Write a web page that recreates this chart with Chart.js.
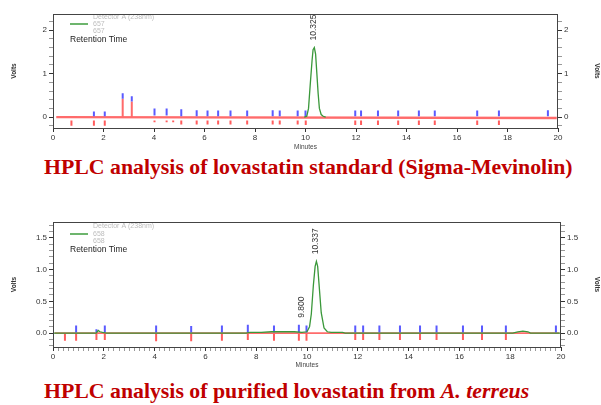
<!DOCTYPE html>
<html>
<head>
<meta charset="utf-8">
<script src="https://cdn.jsdelivr.net/npm/chart.js@4.4.1/dist/chart.umd.min.js"></script>
<style>
  body { margin:0; background:#fff; width:601px; height:405px; position:relative; overflow:hidden; }
  canvas { position:absolute; left:0; }
  #c1 { top:0; }
  #c2 { top:208px; }
  .title { position:absolute; left:44px; font-family:"Liberation Serif","Times New Roman",serif; font-weight:bold; font-size:21.8px; color:#c00000; white-space:nowrap; }
  #t1 { top:155px; }
  #t2 { top:379px; }
</style>
</head>
<body>
<canvas id="c1" width="601" height="152"></canvas>
<div class="title" id="t1">HPLC analysis of lovastatin standard (Sigma-Mevinolin)</div>
<canvas id="c2" width="601" height="162"></canvas>
<div class="title" id="t2">HPLC analysis of purified lovastatin from <i>A. terreus</i></div>
<script>
// minutes on the x axis
const xLabels = [0, 2, 4, 6, 8, 10, 12, 14, 16, 18, 20];

// ---- lovastatin standard (top) ----
const stdTime  = [9.95, 10.05, 10.12, 10.19, 10.26, 10.3, 10.35, 10.4, 10.45, 10.5, 10.55, 10.62, 10.7, 10.8];
const stdVolts = [0, 0.02, 0.2, 0.77, 1.3, 1.55, 1.6, 1.45, 1.0, 0.55, 0.2, 0.06, 0.02, 0];
const stdBaseT = [0.13, 19.95];
const stdBaseV = [0, -0.02];
const stdBlueT  = [1.62, 2.05, 2.76, 3.12, 4.02, 4.5, 5.08, 5.69, 6.12, 6.54, 7.03, 7.69, 8.7, 8.98, 9.69, 10.0, 11.97, 12.2, 12.87, 13.67, 14.49, 15.12, 16.8, 17.66, 19.6];
const stdBlueLo = [0.02, 0.02, 0.42, 0.36, 0.04, 0.04, 0.02, 0.02, 0.02, 0.02, 0.02, 0.02, 0.02, 0.02, 0.02, 0.02, 0.02, 0.02, 0.02, 0.02, 0.02, 0.02, 0.02, 0.02, 0.02];
const stdBlueHi = [0.13, 0.13, 0.55, 0.48, 0.2, 0.2, 0.18, 0.16, 0.15, 0.15, 0.15, 0.15, 0.16, 0.15, 0.15, 0.15, 0.15, 0.15, 0.15, 0.15, 0.15, 0.15, 0.15, 0.15, 0.16];
const stdRedT  = [0.73, 1.62, 2.05, 4.02, 4.5, 4.76, 5.08, 5.69, 6.12, 6.54, 7.03, 7.69, 8.7, 8.98, 9.69, 10.01, 11.97, 12.2, 12.87, 13.67, 14.49, 15.12, 16.8, 17.66];
const stdRedLo = [-0.2, -0.2, -0.2, -0.12, -0.12, -0.12, -0.17, -0.17, -0.17, -0.17, -0.17, -0.17, -0.17, -0.17, -0.17, -0.18, -0.18, -0.18, -0.18, -0.18, -0.18, -0.18, -0.18, -0.18];
const stdTallT  = [2.76, 3.12];
const stdTallHi = [0.42, 0.36];
const stdPeaks  = [10.325];
const stdPeakV  = [1.6];
const stdYLabels = [0, 1, 2];

// ---- purified lovastatin (bottom) ----
const purTime  = [0, 1.7, 1.78, 1.85, 1.95, 2.1, 7.6, 7.75, 8.2, 8.6, 9.0, 9.5, 9.8, 10.0, 10.1, 10.17, 10.25, 10.32, 10.37, 10.42, 10.47, 10.56, 10.67, 10.8, 10.95, 11.4, 11.5, 18.1, 18.3, 18.5, 18.7, 18.8, 20];
const purVolts = [0, 0, 0.04, 0.02, 0.01, 0, 0, 0.01, 0.01, 0.02, 0.02, 0.02, 0.01, 0.02, 0.1, 0.3, 0.75, 1.05, 1.13, 1.05, 0.79, 0.32, 0.08, 0.02, 0.01, 0.01, 0, 0, 0.02, 0.03, 0.02, 0, 0];
const purBaseT = [0.07, 19.93];
const purBaseV = [0, 0];
const purBlueT  = [0.91, 1.71, 2.04, 4.06, 5.44, 6.65, 7.67, 8.7, 9.68, 9.98, 11.9, 12.21, 12.85, 13.66, 14.45, 15.1, 16.14, 16.89, 17.83, 19.8];
const purBlueHi = [0.12, 0.06, 0.12, 0.12, 0.11, 0.12, 0.13, 0.12, 0.13, 0.12, 0.12, 0.12, 0.12, 0.12, 0.12, 0.12, 0.12, 0.12, 0.12, 0.12];
const purRedT  = [0.47, 0.91, 1.71, 2.04, 4.06, 5.44, 6.65, 7.67, 8.7, 9.68, 9.98, 11.9, 12.21, 12.85, 13.66, 14.45, 15.1, 16.14, 16.89, 17.83];
const purRedLo = [-0.12, -0.12, -0.11, -0.11, -0.13, -0.13, -0.12, -0.11, -0.12, -0.12, -0.12, -0.11, -0.11, -0.11, -0.11, -0.11, -0.11, -0.11, -0.11, -0.11];
const purPeaks  = [9.8, 10.337];
const purPeakV  = [0.13, 1.13];
const purYLabels = [0, 0.5, 1, 1.5];

const FONT = '"Liberation Sans", Arial, sans-serif';

function pts(xs, ys) {
    return xs.map((x, i) => ({x: x, y: ys[i]}));
}

// vertical event marks: one segment per time, split by nulls
function segs(times, lo, hi) {
    let out = [];
    for (let i = 0; i < times.length; i++) {
        let a = Array.isArray(lo) ? lo[i] : lo;
        let b = Array.isArray(hi) ? hi[i] : hi;
        out.push({x: times[i], y: a}, {x: times[i], y: b}, {x: times[i], y: null});
    }
    return out;
}

function tickList(min, max, step) {
    let t = [];
    for (let v = Math.ceil(min / step - 1e-9) * step; v <= max + 1e-9; v += step) {
        t.push({value: Math.round(v * 1000) / 1000});
    }
    return t;
}

function isMajor(v, majors) {
    return majors.some(m => Math.abs(m - v) < 1e-6);
}

// box round the plot
const frame = {
    id: 'frame',
    afterDraw(chart) {
        const {ctx, chartArea: a} = chart;
        ctx.save();
        ctx.strokeStyle = '#444';
        ctx.lineWidth = 1;
        ctx.strokeRect(a.left + 0.5, a.top + 0.5, a.right - a.left - 1, a.bottom - a.top);
        ctx.restore();
    }
};

// detector legend + retention time labels
const notes = {
    id: 'notes',
    afterDatasetsDraw(chart, args, o) {
        const {ctx, chartArea: a, scales} = chart;
        const off = o.offsets;
        ctx.save();
        ctx.textBaseline = 'middle';
        ctx.textAlign = 'left';
        ctx.font = '7px ' + FONT;
        ctx.fillStyle = '#bdbdbd';
        ctx.fillText('Detector A (238nm)', a.left + 40, a.top + off[0]);
        ctx.fillText(o.channel, a.left + 40, a.top + off[1]);
        ctx.fillText(o.channel, a.left + 40, a.top + off[2]);
        ctx.strokeStyle = '#3c9c3c';
        ctx.lineWidth = 1.5;
        ctx.beginPath();
        ctx.moveTo(a.left + 17, a.top + off[1]);
        ctx.lineTo(a.left + 35, a.top + off[1]);
        ctx.stroke();
        ctx.font = '8.5px ' + FONT;
        ctx.fillStyle = '#222';
        ctx.fillText('Retention Time', a.left + 17, a.top + off[3]);

        ctx.font = '8.5px ' + FONT;
        ctx.fillStyle = '#333';
        o.peaks.forEach((t, i) => {
            let px = scales.x.getPixelForValue(t);
            let py = scales.y.getPixelForValue(o.peakV[i]) - 7;
            ctx.save();
            ctx.translate(px, py);
            ctx.rotate(-Math.PI / 2);
            ctx.fillText(t.toFixed(3), 0, 0);
            ctx.restore();
        });
        ctx.restore();
    }
};

function makeChart(id, c) {
    const yAxis = (pos, width, title) => ({
        type: 'linear',
        position: pos,
        min: c.yMin,
        max: c.yMax,
        afterBuildTicks: s => { s.ticks = tickList(c.yMin, c.yMax, c.yStep); },
        afterFit: s => { s.width = width; },
        grid: {
            drawOnChartArea: false,
            tickLength: 4,
            tickColor: ctx => isMajor(ctx.tick.value, c.yMajors) ? '#333' : '#999'
        },
        border: {display: false},
        ticks: {
            autoSkip: false,
            padding: 2,
            color: '#333',
            font: {family: FONT, size: 8},
            callback: v => isMajor(v, c.yMajors) ? v.toFixed(c.yDec) : ''
        },
        title: {
            display: true,
            text: 'Volts',
            color: '#333',
            font: {family: FONT, size: 6.5, weight: 'bold'},
            padding: {top: title, bottom: 0}
        }
    });

    return new Chart(document.getElementById(id), {
        type: 'line',
        data: {
            datasets: [
                {data: pts(c.time, c.volts), borderColor: '#3a983a', borderWidth: 1.3},
                {data: segs(c.blueT, c.blueLo, c.blueHi), borderColor: '#5a5aff', borderWidth: 2},
                {data: segs(c.redT, c.redLo, c.redTop), borderColor: '#ff5c5c', borderWidth: 2},
                {data: segs(c.tallT, 0, c.tallHi), borderColor: '#ff6a6a', borderWidth: 2},
                {data: pts(c.baseT, c.baseV), borderColor: '#ff6b6b', borderWidth: c.baseW}
            ]
        },
        options: {
            responsive: false,
            animation: false,
            parsing: true,
            elements: {point: {radius: 0}, line: {tension: 0}},
            layout: {padding: {top: 14, left: 0, right: 0, bottom: 0}},
            plugins: {
                legend: {display: false},
                tooltip: {enabled: false},
                notes: {channel: c.channel, offsets: c.offsets, peaks: c.peaks, peakV: c.peakV}
            },
            scales: {
                x: {
                    type: 'linear',
                    min: 0,
                    max: 20,
                    afterBuildTicks: s => { s.ticks = tickList(0, 20, c.xStep); },
                    afterFit: s => { s.height = c.xHeight; },
                    grid: {
                        drawOnChartArea: false,
                        tickLength: 4,
                        tickColor: ctx => isMajor(ctx.tick.value, xLabels) ? '#333' : '#999'
                    },
                    border: {display: false},
                    ticks: {
                        autoSkip: false,
                        maxRotation: 0,
                        padding: 1,
                        color: '#333',
                        font: {family: FONT, size: 8},
                        callback: v => isMajor(v, xLabels) ? String(Math.round(v)) : ''
                    },
                    title: {
                        display: true,
                        text: 'Minutes',
                        color: '#444',
                        font: {family: FONT, size: 6.5},
                        padding: {top: 0, bottom: 1}
                    }
                },
                y: yAxis('left', 53, 10),
                y2: yAxis('right', c.rightW, 0)
            }
        },
        plugins: [frame, notes]
    });
}

makeChart('c1', {
    time: stdTime, volts: stdVolts, baseT: stdBaseT, baseV: stdBaseV, baseW: 2.4,
    blueT: stdBlueT, blueLo: stdBlueLo, blueHi: stdBlueHi,
    redT: stdRedT, redLo: stdRedLo, redTop: -0.08,
    tallT: stdTallT, tallHi: stdTallHi,
    peaks: stdPeaks, peakV: stdPeakV,
    yMin: -0.25, yMax: 2.37, yStep: 0.2, yMajors: stdYLabels, yDec: 0,
    xStep: 2, xHeight: 24, rightW: 43,
    channel: '657', offsets: [3, 10, 17.5, 25.5]
});

makeChart('c2', {
    time: purTime, volts: purVolts, baseT: purBaseT, baseV: purBaseV, baseW: 1.8,
    blueT: purBlueT, blueLo: 0.01, blueHi: purBlueHi,
    redT: purRedT, redLo: purRedLo, redTop: -0.01,
    tallT: [], tallHi: [],
    peaks: purPeaks, peakV: purPeakV,
    yMin: -0.22, yMax: 1.75, yStep: 0.1, yMajors: purYLabels, yDec: 1,
    xStep: 0.2, xHeight: 23, rightW: 40,
    channel: '658', offsets: [4, 12, 19, 28]
});
</script>
</body>
</html>
